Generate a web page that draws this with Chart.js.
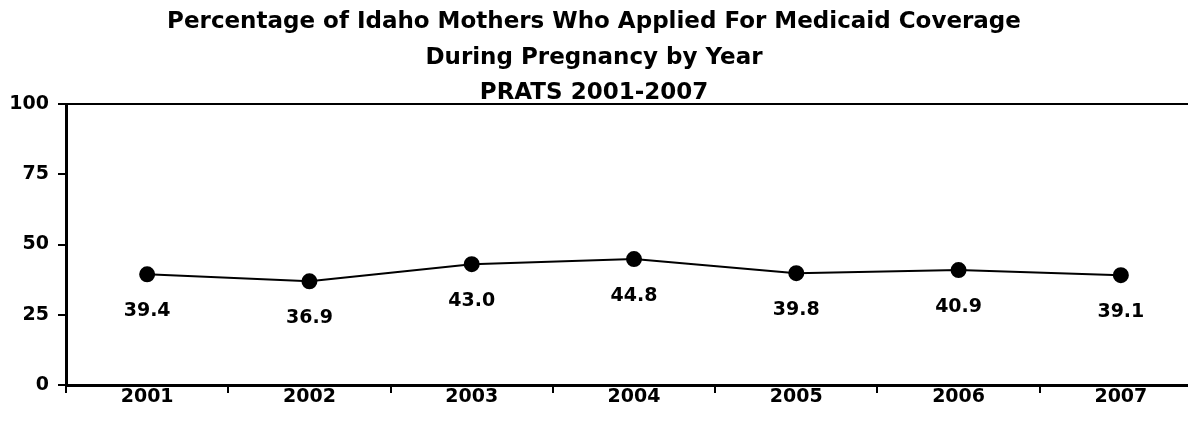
<!DOCTYPE html>
<html>
<head>
<meta charset="utf-8">
<script src="https://cdn.jsdelivr.net/npm/chart.js@4/dist/chart.umd.min.js"></script>
<style>
    html, body { margin: 0; padding: 0; background: #fff; overflow: hidden; }
    #wrap { width: 1212px; height: 432px; }
</style>
</head>
<body>
<div id="wrap"><canvas id="medicaid-chart" width="1212" height="432"></canvas></div>
<script>
    'use strict';

    const titleLines = [
        'Percentage of Idaho Mothers Who Applied For Medicaid Coverage',
        'During Pregnancy by Year',
        'PRATS 2001-2007'
    ];
    const years = ['2001', '2002', '2003', '2004', '2005', '2006', '2007'];
    const percentApplied = [39.4, 36.9, 43.0, 44.8, 39.8, 40.9, 39.1];
    const yTicks = [0, 25, 50, 75, 100];

    const FONT = "'DejaVu Sans', sans-serif";

    // Title drawn by hand so it can sit right on the top frame line
    const titlePlugin = {
        id: 'stackedTitle',
        afterDraw(chart) {
            const ctx = chart.ctx;
            ctx.save();
            ctx.fillStyle = '#000';
            ctx.font = 'bold 23px ' + FONT;
            ctx.textAlign = 'center';
            ctx.textBaseline = 'middle';
            const ys = [22, 58, 93];
            titleLines.forEach((line, i) => ctx.fillText(line, 594, ys[i]));
            ctx.restore();
        }
    };

    // Value labels under each point
    const valueLabels = {
        id: 'valueLabels',
        afterDatasetsDraw(chart) {
            const ctx = chart.ctx;
            const meta = chart.getDatasetMeta(0);
            ctx.save();
            ctx.fillStyle = '#000';
            ctx.font = 'bold 19px ' + FONT;
            ctx.textAlign = 'center';
            ctx.textBaseline = 'middle';
            meta.data.forEach((pt, i) => {
                ctx.fillText(percentApplied[i].toFixed(1), pt.x, pt.y + 37);
            });
            ctx.restore();
        }
    };

    new Chart(document.getElementById('medicaid-chart'), {
        type: 'line',
        data: {
            labels: years,
            datasets: [{
                data: percentApplied,
                borderColor: '#000',
                borderWidth: 2,
                backgroundColor: '#000',
                pointBackgroundColor: '#000',
                pointBorderColor: '#000',
                pointRadius: 7,
                tension: 0,
                fill: false
            }]
        },
        options: {
            responsive: false,
            animation: false,
            layout: {
                padding: { top: 104, right: 10, left: 0, bottom: 0 }
            },
            plugins: {
                legend: { display: false },
                title: { display: false },
                tooltip: { enabled: false }
            },
            scales: {
                x: {
                    offset: true,
                    grid: {
                        offset: true,
                        color: 'rgba(0,0,0,0)',
                        tickColor: '#000',
                        tickLength: 8,
                        lineWidth: 2
                    },
                    border: { display: true, color: '#000', width: 3 },
                    ticks: {
                        color: '#000',
                        padding: -7,
                        font: { family: FONT, size: 19, weight: 'bold' }
                    },
                    afterFit(scale) { scale.height = 47; }
                },
                y: {
                    min: 0,
                    max: 100,
                    afterBuildTicks(scale) {
                        scale.ticks = yTicks.map(v => ({ value: v }));
                    },
                    grid: {
                        color: ctx => (ctx.tick && ctx.tick.value === 100 ? '#000' : 'rgba(0,0,0,0)'),
                        tickColor: '#000',
                        tickLength: 8,
                        lineWidth: 2
                    },
                    border: { display: true, color: '#000', width: 3 },
                    ticks: {
                        color: '#000',
                        padding: 9,
                        font: { family: FONT, size: 19, weight: 'bold' }
                    },
                    afterFit(scale) { scale.width = 66; }
                }
            }
        },
        plugins: [titlePlugin, valueLabels]
    });
</script>
</body>
</html>
